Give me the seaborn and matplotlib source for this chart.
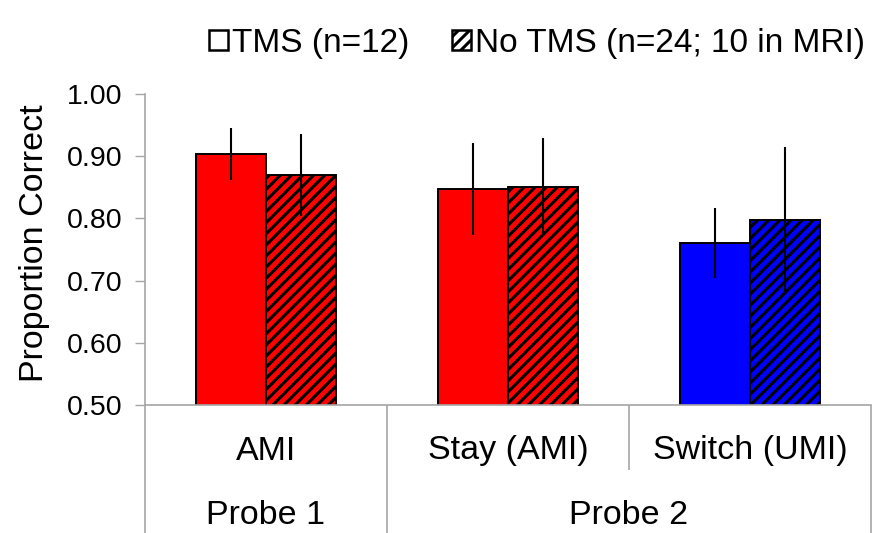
import matplotlib
matplotlib.use("Agg")
import matplotlib.pyplot as plt
from matplotlib.patches import Patch
import seaborn as sns
import pandas as pd

# Accuracy per probe condition
categories = ["AMI", "Stay (AMI)", "Switch (UMI)"]
probe_labels = ["Probe 1", "Probe 2"]
probe_spans = [(0, 0), (1, 2)]          # first and last category index per probe
groups = ["TMS (n=12)", "No TMS (n=24; 10 in MRI)"]
tms_means = [0.903, 0.848, 0.760]
tms_err = [0.042, 0.074, 0.056]
notms_means = [0.870, 0.851, 0.797]
notms_err = [0.066, 0.079, 0.117]
bar_colors = ["#ff0000", "#ff0000", "#0000ff"]
yticks = [0.50, 0.60, 0.70, 0.80, 0.90, 1.00]

sns.set_theme(style="white")
plt.rcParams["font.family"] = ["Liberation Sans", "DejaVu Sans"]
plt.rcParams["text.color"] = "black"
plt.rcParams["hatch.linewidth"] = 2.2
plt.rcParams["hatch.color"] = "black"

TICK_FS = 20.5
TEXT_FS = 24.5
LEGEND_FS = 24

df = pd.DataFrame({
    "category": categories * 2,
    "group": [groups[0]] * 3 + [groups[1]] * 3,
    "value": tms_means + notms_means,
})
errs = [tms_err, notms_err]
means = [tms_means, notms_means]

W, H = 874, 533
fig = plt.figure(figsize=(W / 100, H / 100), dpi=100)
ax = fig.add_axes([145 / W, 1 - 405 / H, (871 - 145) / W, (405 - 94) / H])

sns.barplot(data=df, x="category", y="value", hue="group",
            order=categories, hue_order=groups, width=0.58,
            errorbar=None, edgecolor="black", linewidth=1.4,
            legend=False, ax=ax)

bar_containers = list(ax.containers)
for i, cont in enumerate(bar_containers):
    for j, bar in enumerate(cont.patches):
        bar.set_facecolor(bar_colors[j])
        bar.set_edgecolor("black")
        if i == 1:
            bar.set_hatch("///")
        xc = bar.get_x() + bar.get_width() / 2
        ax.errorbar(xc, means[i][j], yerr=errs[i][j], fmt="none",
                    ecolor="black", elinewidth=1.5, capsize=0, zorder=5)

ax.set_ylim(0.5, 1.0)
ax.set_xlim(-0.5, 2.5)
ax.set_yticks(yticks)
ax.set_yticklabels([f"{v:.2f}" for v in yticks], fontsize=TICK_FS, color="black")
ax.tick_params(axis="y", which="major", left=True, length=7, width=1,
               color="#a6a6a6", pad=9)
ax.set_xticks([])
ax.set_xlabel("")
ax.set_ylabel("Proportion Correct", fontsize=TEXT_FS, color="black")
ax.yaxis.set_label_coords(-(145 - 50) / 726, 0.52)
for s in ["top", "right"]:
    ax.spines[s].set_visible(False)
for s in ["left", "bottom"]:
    ax.spines[s].set_color("#a6a6a6")
    ax.spines[s].set_linewidth(1.2)

# Two-level category axis below the plot
tr = ax.get_xaxis_transform()
px = 1 / 311  # one pixel in axes-height units
y_row1 = -(451 - 405) * px
y_row2 = -(515 - 405) * px
y_bottom = -(533 - 405) * px
y_mid = -(470 - 405) * px
for k, cat in enumerate(categories):
    ax.text(k, y_row1, cat, transform=tr, ha="center", va="center", fontsize=TEXT_FS)
for lab, (a, b) in zip(probe_labels, probe_spans):
    ax.text((a + b) / 2, y_row2, lab, transform=tr, ha="center", va="center",
            fontsize=TEXT_FS)

boundaries = [-0.5, 0.5, 1.5, 2.5]
ends = [y_bottom, y_bottom, y_mid, y_bottom]
for xb, ye in zip(boundaries, ends):
    ax.plot([xb, xb], [0, ye], transform=tr, color="#a6a6a6", lw=1.2,
            clip_on=False, solid_capstyle="butt")

handles = [Patch(facecolor="white", edgecolor="black", linewidth=1.8),
           Patch(facecolor="white", edgecolor="black", linewidth=1.8, hatch="///")]
fig.legend(handles, groups, loc="center", bbox_to_anchor=(537 / W, 1 - 43 / H),
           ncol=2, frameon=False, fontsize=LEGEND_FS, handlelength=0.55,
           handleheight=0.55, handletextpad=0.12, columnspacing=1.3,
           borderaxespad=0)

fig.savefig("out.png", dpi=100)
